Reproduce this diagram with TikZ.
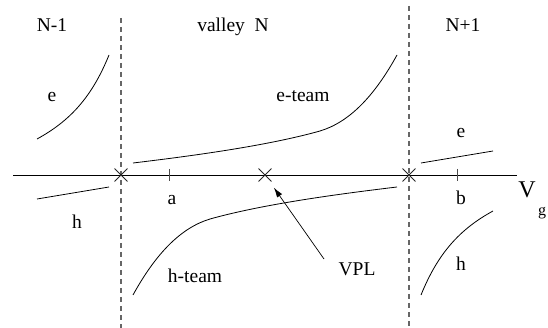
\documentclass[tikz,border=0pt]{standalone}
\usepackage{fontspec}
\setmainfont{Liberation Serif}
\usetikzlibrary{arrows.meta, shapes.misc}

\begin{document}
\begin{tikzpicture}[
    x=1pt, y=-1pt,
    lbl/.style={font=\fontsize{19.5}{22}\selectfont, anchor=base, inner sep=0pt},
    branch/.style={line width=0.8pt, draw=black},
    border/.style={dashed, dash pattern=on 5pt off 4pt, line width=1.2pt, draw=black!60},
    crossing/.style={cross out, draw=black!85, line width=0.9pt, minimum size=12pt, inner sep=0pt},
    tickmark/.style={line width=1pt, draw=black!70},
    pointer/.style={-{Latex[length=10pt, width=6pt]}, line width=0.7pt, draw=black}
]
    \useasboundingbox (0,0) rectangle (548,328);

    % ================= VALLEY BORDERS =================
    \draw[border] (121,18) -- (121,328);
    \draw[border] (409,6) -- (409,328);

    % ================= GATE VOLTAGE AXIS =================
    \coordinate (AxisStart) at (13,175);
    \coordinate (AxisEnd) at (517,175);
    \draw[line width=0.8pt] (AxisStart) -- (AxisEnd);

    \node[crossing] (CrossLeft) at (121,175) {};
    \node[crossing] (CrossVPL) at (265,175) {};
    \node[crossing] (CrossRight) at (409,175) {};

    \draw[tickmark] (169,169) -- (169,181);
    \draw[tickmark] (457,169) -- (457,181);

    % ================= REGION TITLES =================
    \node[lbl] (TitleLeft) at (52,32) {N-1};
    \node[lbl] (TitleValley) at (233,32) {valley\hspace{0.5em}N};
    \node[lbl] (TitleRight) at (463,32) {N+1};

    % ================= ELECTRON BRANCHES =================
    \draw[branch] (37,139) .. controls (70,121) and (92,97) .. (109,55);
    \draw[branch] (133,163) .. controls (200,155) and (270,145) .. (320,131)
                            .. controls (350,122) and (375,95) .. (397,55);
    \draw[branch] (421,163) -- (493,151);

    \node[lbl] (eLeft) at (52,102) {e};
    \node[lbl] (eTeam) at (303,102) {e-team};
    \node[lbl] (eRight) at (461,138) {e};

    % ================= HOLE BRANCHES =================
    \draw[branch] (37,199) -- (109,187);
    \draw[branch] (397,187) .. controls (330,195) and (260,205) .. (210,219)
                            .. controls (180,228) and (155,255) .. (133,295);
    \draw[branch] (493,211) .. controls (460,229) and (438,253) .. (421,295);

    \node[lbl] (hLeft) at (77,229) {h};
    \node[lbl] (hTeam) at (195,283) {h-team};
    \node[lbl] (hRight) at (461,271) {h};

    % ================= AXIS LABELS =================
    \node[lbl] (PointA) at (172,205) {a};
    \node[lbl] (PointB) at (461,205) {b};
    \node[lbl, font=\fontsize{24}{26}\selectfont] (Vg) at (527,198) {V};
    \node[lbl, font=\fontsize{16}{18}\selectfont] (VgSub) at (542,216) {g};

    % ================= VPL POINTER =================
    \node[lbl] (VPL) at (357,276) {VPL};
    \coordinate (VPLTail) at (324,259);
    \draw[pointer, shorten >=7.5pt] (VPLTail) -- (CrossVPL);

\end{tikzpicture}
\end{document}
